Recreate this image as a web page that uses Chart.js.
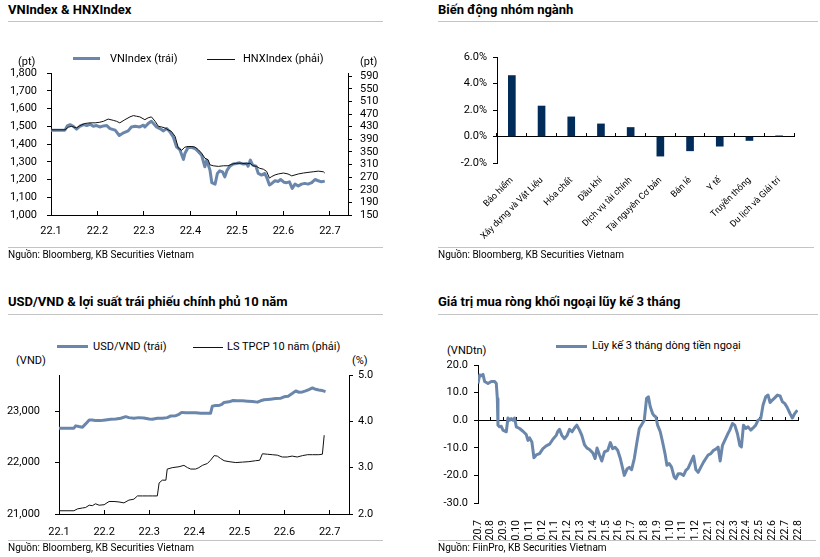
<!DOCTYPE html>
<html>
<head>
<meta charset="utf-8">
<script src="https://cdn.jsdelivr.net/npm/chart.js@4.4.1/dist/chart.umd.min.js"></script>
<style>
  body { margin: 0; width: 820px; height: 557px; background: #fff; position: relative; overflow: hidden;
         font-family: Roboto, "Noto Sans", sans-serif; color: #000; }
  canvas { position: absolute; }
  .t   { position: absolute; font-weight: bold; font-size: 13px; line-height: 16px; white-space: nowrap; }
  .hr  { position: absolute; height: 1px; background: #c4c4c4; }
  .src { position: absolute; font-size: 10px; line-height: 14px; white-space: nowrap; }
  .lab { position: absolute; font-size: 11px; line-height: 14px; white-space: nowrap; }
  .sw  { position: absolute; }
</style>
</head>
<body>

<canvas id="c1" width="400" height="190" style="left:0;top:60px"></canvas>
<canvas id="c2" width="400" height="205" style="left:410px;top:45px"></canvas>
<canvas id="c3" width="400" height="180" style="left:0;top:368px"></canvas>
<canvas id="c4" width="400" height="182" style="left:410px;top:358px"></canvas>

<!-- panel 1 -->
<div class="t" style="left:8px;top:2px">VNIndex &amp; HNXIndex</div>
<div class="hr" style="left:8px;top:21px;width:375px"></div>
<div class="sw" style="left:73px;top:57px;width:27px;height:3px;background:#6a87ab"></div>
<div class="lab" style="left:110px;top:52px">VNIndex (trái)</div>
<div class="sw" style="left:207px;top:59px;width:28px;height:1px;background:#111"></div>
<div class="lab" style="left:243px;top:52px">HNXIndex (phải)</div>
<div class="lab" style="left:18px;top:55px">(pt)</div>
<div class="lab" style="left:360px;top:55px">(pt)</div>
<div class="hr" style="left:8px;top:247px;width:375px"></div>
<div class="src" style="left:8px;top:248px">Nguồn: Bloomberg, KB Securities Vietnam</div>

<!-- panel 2 -->
<div class="t" style="left:438px;top:2px">Biến động nhóm ngành</div>
<div class="hr" style="left:438px;top:21px;width:380px"></div>
<div class="hr" style="left:438px;top:247px;width:376px"></div>
<div class="src" style="left:438px;top:248px">Nguồn: Bloomberg, KB Securities Vietnam</div>

<!-- panel 3 -->
<div class="t" style="left:8px;top:294px">USD/VND &amp; lợi suất trái phiếu chính phủ 10 năm</div>
<div class="hr" style="left:8px;top:314px;width:375px"></div>
<div class="sw" style="left:57px;top:345px;width:31px;height:3px;background:#6a87ab"></div>
<div class="lab" style="left:93px;top:340px">USD/VND (trái)</div>
<div class="sw" style="left:193px;top:347px;width:30px;height:1px;background:#111"></div>
<div class="lab" style="left:227px;top:340px">LS TPCP 10 năm (phải)</div>
<div class="lab" style="left:16px;top:354px">(VND)</div>
<div class="lab" style="left:352px;top:354px">(%)</div>
<div class="hr" style="left:8px;top:540px;width:375px"></div>
<div class="src" style="left:8px;top:541px">Nguồn: Bloomberg, KB Securities Vietnam</div>

<!-- panel 4 -->
<div class="t" style="left:438px;top:294px">Giá trị mua ròng khối ngoại lũy kế 3 tháng</div>
<div class="hr" style="left:438px;top:314px;width:380px"></div>
<div class="sw" style="left:556px;top:345px;width:31px;height:3px;background:#6a87ab"></div>
<div class="lab" style="left:592px;top:339px">Lũy kế 3 tháng dòng tiền ngoại</div>
<div class="lab" style="left:447px;top:344px">(VNDtn)</div>
<div class="hr" style="left:438px;top:540px;width:378px"></div>
<div class="src" style="left:438px;top:541px">Nguồn: FiinPro, KB Securities Vietnam</div>

<script>
/* ─── DATA ───────────────────────────────────────────── */
// x values are months after 22.1 (panels 1 and 3) / after 20.7 (panel 4)
const months22 = ["22.1", "22.2", "22.3", "22.4", "22.5", "22.6", "22.7"];

const vnDates = [0,0.30,0.35,0.41,0.48,0.55,0.62,0.70,0.77,0.84, 0.91,0.98,1.05,1.13,1.20,1.27,1.38,1.47,1.56,1.66,
  1.73,1.81,1.91,1.99,2.02,2.09,2.16,2.22,2.27,2.34, 2.42,2.49,2.56,2.63,2.70,2.77,2.85,2.88,2.95,3.03,
  3.10,3.17,3.24,3.31,3.35,3.42,3.46,3.53,3.58,3.63, 3.69,3.74,3.79,3.85,3.92,3.99,4.06,4.14,4.21,4.24,
  4.29,4.34,4.41,4.46,4.53,4.60,4.65,4.70,4.75,4.82, 4.89,4.94,5.01,5.07,5.13,5.19,5.25,5.32,5.39,5.46,
  5.53,5.61,5.68,5.75,5.82,5.89];
const vnValues = [1478,1478,1502,1509,1500,1483,1500,1509,1504,1511, 1500,1504,1496,1502,1504,1487,1478,1448,1463,1474,
  1496,1500,1496,1506,1496,1515,1528,1511,1496,1487, 1474,1487,1468,1440,1384,1369,1313,1346,1380,1380,
  1375,1356,1337,1272,1309,1253,1182,1174,1234,1249, 1243,1215,1253,1275,1287,1290,1294,1287,1290,1275,
  1309,1281,1275,1234,1225,1234,1206,1169,1178,1193, 1189,1200,1185,1182,1187,1150,1174,1163,1174,1178,
  1174,1182,1200,1193,1187,1191];

const hnxDates = [0,0.30,0.37,0.44,0.55,0.62,0.73,0.84,0.95,1.05, 1.13,1.23,1.34,1.41,1.48,1.59,1.70,1.77,1.84,1.91,
  2.02,2.09,2.16,2.24,2.31,2.38,2.45,2.52,2.59,2.67, 2.74,2.81,2.88,2.95,3.03,3.10,3.17,3.24,3.31,3.38,
  3.42,3.49,3.60,3.71,3.81,3.89,3.99,4.10,4.21,4.28, 4.35,4.42,4.49,4.57,4.64,4.70,4.75,4.82,4.89,5.00,
  5.10,5.18,5.25,5.32,5.43,5.53,5.64,5.75,5.86,5.89];
const hnxValues = [420,420,428,431,426,433,440,442,442,444, 447,454,450,447,442,452,461,465,463,461,
  452,458,461,447,431,429,426,420,415,399, 362,355,365,367,367,365,357,346,330,325,
  309,306,304,306,306,311,314,314,312,314, 306,304,298,295,288,267,272,277,280,283,
  280,274,277,280,283,285,287,289,287,283];
const hnxTicks = [150,190,230,270,310,350,390,430,470,510,550,590];

const sectors = ["Bảo hiểm", "Xây dựng và Vật Liệu", "Hóa chất", "Dầu khí", "Dịch vụ tài chính",
  "Tài nguyên Cơ bản", "Bán lẻ", "Y tế", "Truyền thông", "Du lịch và Giải trí"];
const sectorChange = [4.6, 2.3, 1.48, 0.95, 0.68, -1.48, -1.08, -0.73, -0.3, 0.05];

const usdDates = [0,0.33,0.37,0.44,0.52,0.59,0.67,0.74,0.81,0.92, 1.03,1.15,1.26,1.37,1.48,1.55,1.66,1.77,1.88,2.00,
  2.07,2.18,2.29,2.40,2.48,2.59,2.66,2.72,2.81,2.92, 3.03,3.14,3.25,3.36,3.40,3.47,3.55,3.61,3.66,3.77,
  3.86,3.95,4.07,4.18,4.29,4.40,4.47,4.55,4.62,4.69, 4.80,4.92,4.99,5.08,5.17,5.25,5.32,5.40,5.47,5.54,
  5.62,5.69,5.76,5.84,5.91];
const usdValues = [22667,22667,22712,22699,22686,22750,22827,22827,22814,22814, 22827,22840,22846,22859,22891,22872,22859,22872,22865,22846,
  22840,22859,22859,22872,22904,22910,22936,22974,22968,22968, 22968,22955,22955,22955,23096,23109,23109,23128,23167,23179,
  23205,23199,23199,23192,23186,23173,23199,23218,23224,23231, 23244,23250,23276,23288,23340,23391,23365,23372,23391,23417,
  23449,23423,23410,23397,23378];
const usdTicks = [21000, 22000, 23000];

const bondDates = [0,0.33,0.41,0.52,0.59,0.67,0.74,0.81,0.89,1.00, 1.11,1.22,1.33,1.44,1.55,1.66,1.74,1.85,1.96,2.07,
  2.18,2.22,2.29,2.37,2.40,2.44,2.51,2.66,2.77,2.85, 2.92,3.03,3.10,3.18,3.29,3.36,3.44,3.51,3.58,3.66,
  3.77,3.92,4.07,4.21,4.36,4.45,4.51,4.62,4.73,4.84, 4.95,5.06,5.17,5.28,5.40,5.51,5.62,5.76,5.84,5.88];
const bondValues = [2.07,2.07,2.11,2.13,2.14,2.19,2.18,2.22,2.19,2.20, 2.27,2.27,2.26,2.24,2.30,2.32,2.39,2.39,2.39,2.39,
  2.39,2.67,2.73,2.73,2.97,2.98,3.00,3.02,3.05,3.00, 2.97,2.97,3.00,3.05,3.09,3.16,3.26,3.25,3.20,3.15,
  3.13,3.11,3.12,3.13,3.15,3.16,3.30,3.29,3.28,3.27, 3.23,3.23,3.25,3.23,3.26,3.28,3.28,3.28,3.29,3.70];

const fxMonths = ["20.7","20.8","20.9","20.10","20.11","20.12","21.1","21.2","21.3","21.4","21.5","21.6","21.7",
  "21.8","21.9","21.10","21.11","21.12","22.1","22.2","22.3","22.4","22.5","22.6","22.7","22.8"];
const flowDates = [0,0.13,0.26,0.39,0.52,0.78,1.04,1.30,1.43,1.51, 1.56,1.69,1.82,1.95,2.21,2.34,2.47,2.60,2.73,2.86,
  2.99,3.25,3.51,3.77,3.90,4.03,4.21,4.37,4.55,4.81, 5.07,5.33,5.59,5.85,6.11,6.24,6.37,6.55,6.76,6.96,
  7.15,7.35,7.54,7.72,7.93,8.11,8.32,8.52,8.71,8.97, 9.15,9.30,9.49,9.67,9.88,10.14,10.34,10.52,10.71,10.91,
  11.12,11.30,11.43,11.64,11.82,12.00,12.21,12.42,12.60,12.79, 12.99,13.17,13.31,13.46,13.64,13.77,13.90,14.03,14.24,14.42,
  14.61,14.76,14.94,15.12,15.33,15.46,15.64,15.85,16.06,16.24, 16.42,16.63,16.84,17.02,17.20,17.41,17.62,17.80,17.98,18.19,
  18.40,18.58,18.76,18.92,19.10,19.28,19.49,19.67,19.88,20.06, 20.27,20.45,20.58,20.74,20.92,21.10,21.31,21.49,21.70,21.88,
  22.09,22.27,22.48,22.66,22.82,23.00,23.18,23.39,23.60,23.78, 23.96,24.17,24.38,24.56,24.74,24.95];
const flowValues = [13.3,16.4,16.1,16.6,14.0,13.3,14.0,14.0,13.3,7.9, -1.8,-2.4,-2.2,-3.6,-4.2,0.8,0,0.6,0,0.8,
  -2.4,-3.0,-4.0,-5.2,-7.3,-6.4,-7.9,-13.6,-12.6,-12.1, -10.3,-9.3,-8.7,-6.9,-5.5,-4.0,-3.3,-5.5,-6.7,-5.5,
  -3.3,-4.2,-2.8,-1.8,-3.6,-5.5,-8.9,-10.1,-10.6,-11.9, -13.9,-10.1,-12.6,-14.8,-11.5,-10.9,-8.1,-10.3,-9.8,-10.9,
  -13.9,-17.4,-20.0,-17.7,-17.1,-17.9,-13.9,-7.9,-3.0,-1.6, 0,7.9,8.5,4.9,2.4,1.6,1.2,-1.8,-4.2,-7.9,
  -12.1,-16.3,-15.7,-17.0,-20.6,-21.2,-19.4,-19.4,-20.0,-18.2, -17.4,-15.2,-13.0,-17.9,-18.9,-17.0,-15.2,-13.9,-12.6,-12.1,
  -10.9,-10.5,-9.7,-14.8,-9.1,-7.3,-5.2,-3.6,-1.2,-1.8, -4.9,-9.1,-9.7,-1.8,-3.0,-2.4,-3.6,-2.8,-1.8,0,
  0.6,5.5,8.5,9.1,6.4,7.3,8.1,9.1,8.8,6.7, 6.1,4.5,2.4,0.8,2.4,3.6];

/* ─── HELPERS ────────────────────────────────────────── */
const BLUE = "#6a87ab";
const INK  = "#000";
Chart.defaults.font.family = "Roboto, 'Noto Sans', sans-serif";
Chart.defaults.font.size = 11;
Chart.defaults.color = INK;

const pairs    = (xs, ys) => xs.map((x, i) => ({ x, y: ys[i] }));
const setTicks = vals => s => { s.ticks = vals.map(v => ({ value: v })); };
const indexes  = n => Array.from({ length: n }, (_, i) => i);
// fixed axis sizes so the plot areas sit where the reference has them
const width  = w => s => { s.width = w; s.paddingTop = 0; s.paddingBottom = 0; };
const height = h => s => { s.height = h; s.paddingLeft = 0; s.paddingRight = 0; };

const base = {
  responsive: false,
  animation: false,
  events: [],
  elements: { point: { radius: 0 }, line: { tension: 0, borderJoinStyle: "round" } },
  plugins: { legend: { display: false }, tooltip: { enabled: false } },
};

const yAxis = (pos, extra) => Object.assign({
  position: pos,
  grid: { drawOnChartArea: false, tickLength: 4, color: INK },
  border: { color: INK },
}, extra);

/* ─── VNINDEX & HNXINDEX ─────────────────────────────── */
new Chart(document.getElementById("c1"), {
  type: "line",
  data: {
    datasets: [
      { data: pairs(hnxDates, hnxValues), yAxisID: "y2", borderColor: "#111", borderWidth: 1, order: 0 },
      { data: pairs(vnDates, vnValues), yAxisID: "y", borderColor: BLUE, borderWidth: 3, order: 1 },
    ],
  },
  options: {
    ...base,
    layout: { padding: { top: 13 } },
    scales: {
      x: {
        type: "linear", min: 0, max: 6.39,
        afterBuildTicks: setTicks(indexes(7)),
        ticks: { callback: (v, i) => months22[i], padding: 14, maxRotation: 0, autoSkip: false },
        grid: { drawOnChartArea: false, tickLength: -4, color: INK },
        border: { color: INK },
        afterFit: height(35),
      },
      y: yAxis("left", {
        min: 1000, max: 1800,
        ticks: { stepSize: 100, padding: 10, autoSkip: false, callback: v => v.toLocaleString("en-US") },
        afterFit: width(51),
      }),
      y2: yAxis("right", {
        min: 150, max: 600,
        afterBuildTicks: setTicks(hnxTicks),
        ticks: { padding: 8, autoSkip: false },
        afterFit: width(52),
      }),
    },
  },
});

/* ─── SECTOR BARS ────────────────────────────────────── */
new Chart(document.getElementById("c2"), {
  type: "bar",
  data: {
    labels: sectors,
    datasets: [{ data: sectorChange, backgroundColor: "#012b59", barThickness: 7 }],
  },
  options: {
    ...base,
    layout: { padding: { top: 12, right: 16 } },
    scales: {
      x: {
        grid: { display: false },
        border: { display: false },
        ticks: { minRotation: 45, maxRotation: 45, autoSkip: false, padding: 4, font: { size: 9 } },
        afterFit: height(87),
      },
      x0: {
        type: "category",
        position: { y: 0 },
        offset: true,
        grid: { offset: true, drawOnChartArea: false, tickLength: -4, color: INK },
        ticks: { display: false },
        border: { color: INK },
      },
      y: yAxis("left", {
        min: -2, max: 6,
        ticks: { stepSize: 2, padding: 6, callback: v => v.toFixed(1) + "%" },
        afterFit: width(87),
      }),
    },
  },
});

/* ─── USD/VND & BOND YIELD ───────────────────────────── */
new Chart(document.getElementById("c3"), {
  type: "line",
  data: {
    datasets: [
      { data: pairs(bondDates, bondValues), yAxisID: "y2", borderColor: "#111", borderWidth: 1, order: 0 },
      { data: pairs(usdDates, usdValues), yAxisID: "y", borderColor: BLUE, borderWidth: 3, order: 1 },
    ],
  },
  options: {
    ...base,
    layout: { padding: { top: 7 } },
    scales: {
      x: {
        type: "linear", min: 0, max: 6.43,
        afterBuildTicks: setTicks(indexes(7)),
        ticks: { callback: (v, i) => months22[i], padding: 16, maxRotation: 0, autoSkip: false },
        grid: { drawOnChartArea: false, tickLength: -4, color: INK },
        border: { color: INK },
        afterFit: height(34),
      },
      y: yAxis("left", {
        min: 21000, max: 23700,
        afterBuildTicks: setTicks(usdTicks),
        ticks: { padding: 15, callback: v => v.toLocaleString("en-US") },
        afterFit: width(59),
      }),
      y2: yAxis("right", {
        min: 2, max: 5,
        ticks: { stepSize: 1, padding: 5, callback: v => v.toFixed(1) },
        afterFit: width(51),
      }),
    },
  },
});

/* ─── FOREIGN FLOW 3M ────────────────────────────────── */
new Chart(document.getElementById("c4"), {
  type: "line",
  data: {
    datasets: [{ data: pairs(flowDates, flowValues), borderColor: BLUE, borderWidth: 3 }],
  },
  options: {
    ...base,
    layout: { padding: { top: 7, right: 12 } },
    scales: {
      x: {
        type: "linear", min: 0, max: 25,
        afterBuildTicks: setTicks(indexes(26)),
        ticks: { callback: (v, i) => fxMonths[i], padding: 9, minRotation: 90, maxRotation: 90,
                 autoSkip: false, font: { size: 10.5 } },
        grid: { display: false },
        border: { display: false },
        afterFit: height(37),
      },
      x0: {
        type: "linear", min: 0, max: 25,
        position: { y: 0 },
        afterBuildTicks: setTicks(indexes(26)),
        grid: { drawOnChartArea: false, tickLength: -4, color: INK },
        ticks: { display: false },
        border: { color: INK },
      },
      y: yAxis("left", {
        min: -30, max: 20,
        ticks: { stepSize: 10, padding: 6, callback: v => v.toFixed(1) },
        afterFit: width(68),
      }),
    },
  },
});
</script>
</body>
</html>
